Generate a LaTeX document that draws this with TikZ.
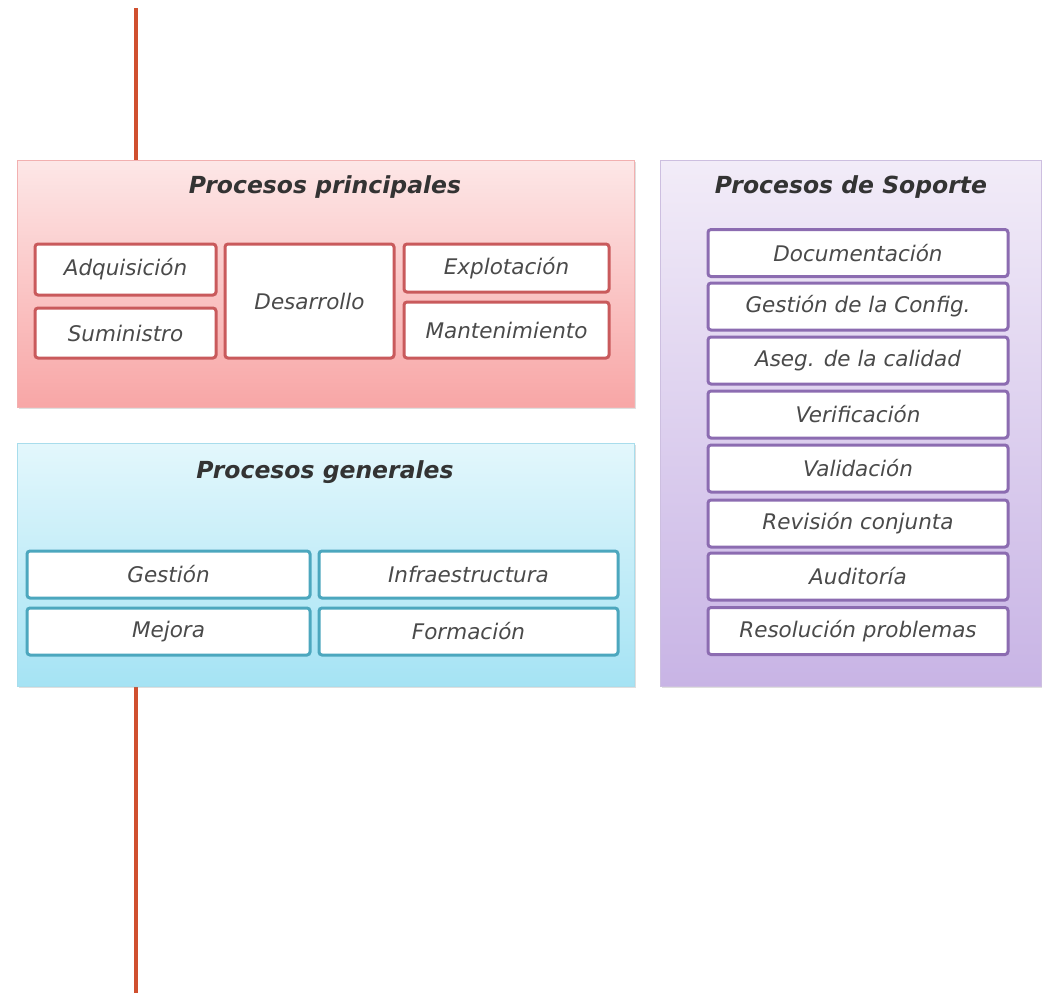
\documentclass[tikz,border=0pt]{standalone}
\usepackage{fontspec}
\setmainfont{DejaVu Sans}
\usetikzlibrary{shadows}
\definecolor{redline}{HTML}{D0502F}
\definecolor{pTop}{HTML}{FDE7E7}
\definecolor{pBot}{HTML}{F8A6A6}
\definecolor{pEdge}{HTML}{F2B0B0}
\definecolor{pIn}{HTML}{C95A5C}
\definecolor{gTop}{HTML}{E3F7FC}
\definecolor{gBot}{HTML}{A5E3F4}
\definecolor{gEdge}{HTML}{A8DDEC}
\definecolor{gIn}{HTML}{4CA7BE}
\definecolor{sTop}{HTML}{F2ECF8}
\definecolor{sBot}{HTML}{C8B4E5}
\definecolor{sEdge}{HTML}{CDBFE0}
\definecolor{sIn}{HTML}{8C6CB1}
\definecolor{txt}{HTML}{4A4A4A}
\definecolor{ttl}{HTML}{333333}
\tikzset{
  group/.style={draw, line width=0.8pt, inner sep=0pt, drop shadow={opacity=0.25, shadow xshift=1.5pt, shadow yshift=-1.5pt}},
  ptitle/.style={font=\fontsize{23.5}{28}\selectfont\bfseries\itshape, text=ttl, inner sep=0pt},
  item/.style={draw, line width=3pt, rounded corners=3pt, fill=white, inner sep=0pt,
               font=\fontsize{21.5}{25}\selectfont\itshape, text=txt},
  pitem/.style={item, draw=pIn},
  gitem/.style={item, draw=gIn},
  sitem/.style={item, draw=sIn, minimum width=300pt, minimum height=47pt},
  vline/.style={draw=redline, line width=4pt}
}
\begin{document}
\begin{tikzpicture}[x=1pt,y=-1pt]
\useasboundingbox (0,0) rectangle (1042,994);
% red vertical line
\coordinate (l1) at (136,8);
\coordinate (l2) at (136,160);
\coordinate (l3) at (136,686);
\coordinate (l4) at (136,993);
\draw[vline] (l1) -- (l2);
\draw[vline] (l3) -- (l4);

% group containers
\node[group, draw=pEdge, top color=pTop, bottom color=pBot, minimum width=617pt, minimum height=247pt] (princ) at (325.5,283.5) {};
\node[group, draw=gEdge, top color=gTop, bottom color=gBot, minimum width=617pt, minimum height=243pt] (gener) at (325.5,564.5) {};
\node[group, draw=sEdge, top color=sTop, bottom color=sBot, minimum width=381pt, minimum height=526pt] (sopor) at (850.5,423) {};

% titles
\node[ptitle] (tprinc) at (325,187) {Procesos principales};
\node[ptitle] (tgener) at (325,472) {Procesos generales};
\node[ptitle] (tsopor) at (851,187) {Procesos de Soporte};

% principales items
\node[pitem, minimum width=181pt, minimum height=51pt] (adq) at (125.5,269.5) {Adquisición};
\node[pitem, minimum width=181pt, minimum height=50pt] (sum) at (125.5,333) {Suministro};
\node[pitem, minimum width=169pt, minimum height=114pt] (des) at (309.5,301) {Desarrollo};
\node[pitem, minimum width=205pt, minimum height=48pt] (exp) at (506.5,268) {Explotación};
\node[pitem, minimum width=205pt, minimum height=56pt] (man) at (506.5,330) {Mantenimiento};

% generales items
\node[gitem, minimum width=283pt, minimum height=47pt] (ges) at (168.5,574.5) {Gestión};
\node[gitem, minimum width=299pt, minimum height=47pt] (inf) at (468.5,574.5) {Infraestructura};
\node[gitem, minimum width=283pt, minimum height=47pt] (mej) at (168.5,631.5) {Mejora};
\node[gitem, minimum width=299pt, minimum height=47pt] (for) at (468.5,631.5) {Formación};

% soporte items
\node[sitem] (doc) at (858,253) {Documentación};
\node[sitem] (gcf) at (858,306.5) {Gestión de la Config.};
\node[sitem] (ase) at (858,360.5) {Aseg. de la calidad};
\node[sitem] (ver) at (858,414.5) {Verificación};
\node[sitem] (val) at (858,468.5) {Validación};
\node[sitem] (rev) at (858,523.5) {Revisión conjunta};
\node[sitem] (aud) at (858,576.5) {Auditoría};
\node[sitem] (res) at (858,631) {Resolución problemas};
\end{tikzpicture}
\end{document}
